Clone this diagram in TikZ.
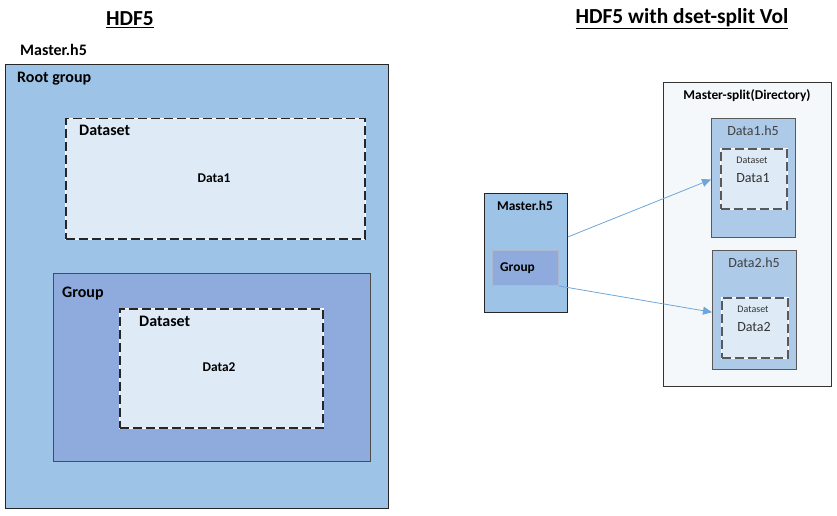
\documentclass[tikz,border=0pt]{standalone}
\usepackage{fontspec}
\setmainfont{Carlito}
\usetikzlibrary{arrows.meta}
\definecolor{rootblue}{HTML}{9DC3E6}
\definecolor{groupblue}{HTML}{8FAADC}
\definecolor{dsetblue}{HTML}{DEEBF7}
\definecolor{fileblue}{HTML}{ADCBE8}
\definecolor{dirgray}{HTML}{F5F8FB}
\definecolor{linkblue}{HTML}{6FA6DA}

\begin{document}
\begin{tikzpicture}[x=1pt, y=-1pt,
    box/.style = {draw=black!85, line width=1pt, anchor=north west, inner sep=0pt},
    dset/.style = {draw=black!85, line width=1.5pt, dash pattern=on 9pt off 4pt,
                   preaction={draw=white, solid, line width=1.5pt},
                   fill=dsetblue, anchor=north west, inner sep=0pt},
    head/.style = {font=\bfseries\fontsize{16}{19}\selectfont, inner sep=0pt},
    title/.style = {font=\bfseries\fontsize{21.4}{25}\selectfont, inner sep=0pt},
    txt/.style = {font=\fontsize{13.4}{16}\selectfont, inner sep=0pt},
    link/.style = {draw=linkblue, line width=0.8pt, -{Triangle[length=9pt,width=8pt]}}]
    \useasboundingbox (0,0) rectangle (837,516);

    % plain HDF5 file
    \node[title] (lefttitle) at (130,20) {\underline{HDF5}};
    \node[head, anchor=west] (mastername) at (20,50) {Master.h5};
    \node[box, fill=rootblue, minimum width=383, minimum height=444] (root) at (5,64) {};
    \node[head, anchor=west] (roottxt) at (17,79) {Root group};
    \node[dset, minimum width=299, minimum height=120] (dset1) at (65,118) {};
    \node[head, anchor=west] (dset1txt) at (79,130) {Dataset};
    \node[txt] (data1) at (214,178) {\bfseries Data1};
    \node[box, draw=black!70, fill=groupblue, minimum width=317, minimum height=188] (group) at (53,273) {};
    \node[head, anchor=west] (grouptxt) at (62,294) {Group};
    \node[dset, minimum width=203, minimum height=119] (dset2) at (119,308) {};
    \node[head, anchor=west] (dset2txt) at (139,321) {Dataset};
    \node[txt] (data2) at (219,367) {\bfseries Data2};

    % HDF5 file with split datasets
    \node[title] (righttitle) at (682,19) {\underline{HDF5 with dset-split Vol}};
    \node[box, draw=black!80, fill=dirgray, minimum width=168, minimum height=304] (dir) at (663,82) {};
    \node[txt, font=\bfseries\fontsize{13.4}{16}\selectfont] (dirtxt) at (747,96) {Master-split(Directory)};
    \node[box, fill=rootblue, minimum width=83, minimum height=119] (master) at (484,193) {};
    \node[txt, font=\bfseries\fontsize{13.4}{16}\selectfont] (mastertxt) at (525,206) {Master.h5};
    \node[box, draw=black!20!groupblue!60!white, fill=groupblue, minimum width=66, minimum height=35] (grp) at (492,250) {};
    \node[txt, font=\bfseries\fontsize{13.4}{16}\selectfont, anchor=west] (grptxt) at (500,268) {Group};

    \foreach \i/\x/\y/\dy in {1/711/118/30, 2/712/250/47}{
        \node[box, draw=black!65, fill=fileblue, minimum width=84, minimum height=119] (d\i) at (\x,\y) {};
        \node[txt, text=black!75, font=\fontsize{14}{16}\selectfont] (d\i txt) at (\x+42,\y+13) {Data\i.h5};
        \node[dset, draw=black!65, minimum width=66, minimum height=60] (s\i) at (\x+9,\y+\dy) {};
        \node[txt, font=\fontsize{10}{12}\selectfont, text=black!80] (s\i txt) at (\x+41,\y+\dy+12) {Dataset};
        \node[txt, text=black!80, font=\fontsize{14}{16}\selectfont] (s\i data) at (\x+42,\y+\dy+30) {Data\i};
    }

    \draw[link] (master.21.7) -- (d1.182);
    \draw[link] (grp.south east) -- (d2.183);
\end{tikzpicture}
\end{document}
